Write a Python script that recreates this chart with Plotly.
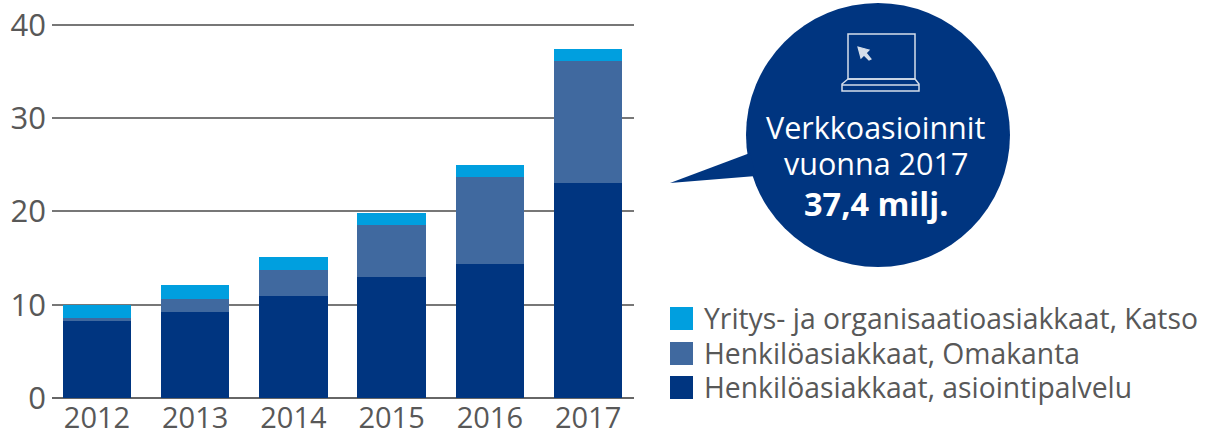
import plotly.graph_objects as go

years = ["2012", "2013", "2014", "2015", "2016", "2017"]
asiointipalvelu = [8.3, 9.25, 10.9, 13.0, 14.4, 23.05]
omakanta = [0.3, 1.4, 2.85, 5.55, 9.3, 13.05]
katso = [1.4, 1.45, 1.35, 1.25, 1.3, 1.3]
names = ["Yritys- ja organisaatioasiakkaat, Katso", "Henkilöasiakkaat, Omakanta", "Henkilöasiakkaat, asiointipalvelu"]
colors = ["#009fdf", "#40699f", "#003580"]
yticks = [0, 10, 20, 30, 40]

W, H = 1205, 438
L, R, T, B = 52, 634, 22, 398
YMAX = 40.32
FONT = "Open Sans"
TXT = "#585858"

def px(x): return (x - L) / (R - L)
def py(y): return (B - y) / (B - T)

fig = go.Figure()
for vals, nm, c in [(asiointipalvelu, names[2], colors[2]), (omakanta, names[1], colors[1]), (katso, names[0], colors[0])]:
    fig.add_trace(go.Bar(x=years, y=vals, name=nm, marker=dict(color=c, line_width=0), showlegend=False))

shapes = []
# callout
shapes.append(dict(type="circle", xref="paper", yref="paper", x0=px(746), x1=px(1010), y0=py(267), y1=py(3),
                   fillcolor="#003580", line_width=0, layer="above"))
tail = [(670, 183), (750, 153), (756, 176)]
shapes.append(dict(type="path", xref="paper", yref="paper", fillcolor="#003580", line_width=0, layer="above",
                   path="M" + " L".join(f"{px(a):.5f},{py(b):.5f}" for a, b in tail) + " Z"))
# laptop icon
def poly(pts, fill=None, w=1.5, close=True):
    d = dict(type="path", xref="paper", yref="paper", layer="above", line=dict(color="#d5deea", width=w),
             path="M" + " L".join(f"{px(a):.5f},{py(b):.5f}" for a, b in pts) + (" Z" if close else ""))
    if fill: d["fillcolor"] = fill
    return d
shapes.append(poly([(848, 79), (848, 34), (915, 34), (915, 79)]))
shapes.append(poly([(848, 79), (842, 84), (842, 91), (919, 91), (919, 84), (915, 79)]))
shapes.append(poly([(842, 85), (919, 85)], close=False))
shapes.append(poly([(858, 47), (869, 50), (866, 53), (871, 59), (869, 60), (864, 55), (861, 58)], w=1.2, fill="#d5deea"))

annots = []
# legend
for i, (nm, c) in enumerate(zip(names, colors)):
    y0 = [307, 342, 376][i]
    shapes.append(dict(type="rect", xref="paper", yref="paper", x0=px(670), x1=px(693), y0=py(y0 + 23), y1=py(y0),
                       fillcolor=c, line_width=0, layer="above"))
    annots.append(dict(xref="paper", yref="paper", x=px(702), y=py([318, 353, 387][i]), text=nm, showarrow=False,
                       xanchor="left", yanchor="middle", font=dict(family=FONT, size=28.3, color=TXT)))
for t, y, s, b in [("Verkkoasioinnit", 127, 30.5, False), ("vuonna 2017", 163, 30.5, False), ("37,4 milj.", 203, 32.5, True)]:
    annots.append(dict(xref="paper", yref="paper", x=px(876), y=py(y), showarrow=False, xanchor="center", yanchor="middle",
                       text=f"<b>{t}</b>" if b else t, font=dict(family=FONT, size=s, color="white")))

fig.update_layout(
    width=W, height=H, barmode="stack", bargap=0.305, autosize=False,
    margin=dict(l=L, r=W - R, t=T, b=H - B, pad=0),
    paper_bgcolor="white", plot_bgcolor="white",
    shapes=shapes, annotations=annots,
    xaxis=dict(type="category", range=[-0.458, 5.468], showgrid=False, ticks="", showline=False, automargin=False,
               tickfont=dict(family=FONT, size=29, color=TXT)),
    yaxis=dict(range=[0, YMAX], tickvals=yticks, showgrid=True, gridcolor="#777777", gridwidth=1.5, zeroline=True,
               zerolinecolor="#666666", zerolinewidth=1.5, ticks="", showline=False, automargin=False,
               ticklabelstandoff=5, tickfont=dict(family=FONT, size=31, color=TXT)),
)
fig.write_html("out.html", config=dict(displayModeBar=False),
               post_script="document.body.style.margin='0';document.documentElement.style.overflow='hidden';")
